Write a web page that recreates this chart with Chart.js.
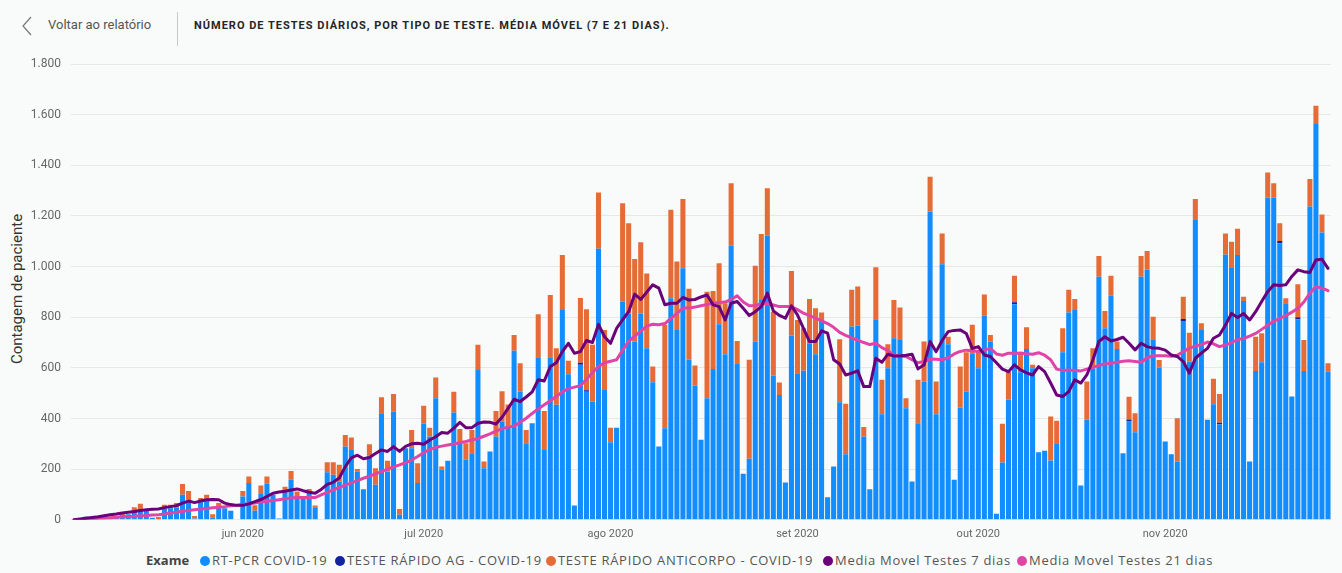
<!DOCTYPE html>
<html>
<head>
<meta charset="utf-8">
<script src="https://cdn.jsdelivr.net/npm/chart.js@4.4.0/dist/chart.umd.min.js"></script>
<style>
  body { margin: 0; width: 1342px; height: 573px; overflow: hidden; background: #f9fbfa; position: relative; font-family: Roboto, "Open Sans", sans-serif; }
  .abs { position: absolute; white-space: nowrap; }
  #back { left: 48px; top: 17px; font-size: 13px; color: #555; }
  #sep { left: 177px; top: 12px; width: 1px; height: 34px; background: #c8c8c8; }
  #title { left: 194px; top: 19px; font-size: 11px; font-weight: 700; color: #252525; letter-spacing: 1px; }
  #ytitle { left: 17px; top: 289px; font-size: 15px; color: #333; transform: translate(-50%, -50%) rotate(-90deg); }
  #wrap { position: absolute; left: 0; top: 40px; width: 1342px; height: 503px; }
  .leg { top: 551px; font-size: 13px; color: #555; letter-spacing: 0.7px; font-family: "Open Sans", sans-serif; }
  .dot { display: inline-block; width: 10px; height: 10px; border-radius: 50%; margin-right: 2px; vertical-align: -1px; }
</style>
</head>
<body>
<svg class="abs" style="left:0;top:0" width="40" height="50"><polyline points="31,17 23,26 31,35" fill="none" stroke="#777" stroke-width="1.2"/></svg>
<div id="back" class="abs">Voltar ao relatório</div>
<div id="sep" class="abs"></div>
<div id="title" class="abs">NÚMERO DE TESTES DIÁRIOS, POR TIPO DE TESTE. MÉDIA MÓVEL (7 E 21 DIAS).</div>
<div id="ytitle" class="abs">Contagem de paciente</div>
<div id="wrap"><canvas id="chart"></canvas></div>
<div id="legend"></div>
<script>
// Daily counts from 04/05/2020 to 28/11/2020
const startDate = new Date(2020, 4, 4);
const nDays = 209;

const rtPcr = [
  0, 3, 0, 6, 8, 10, 5, 14, 15, 22,
  35, 43, 39, 8, 3, 46, 46, 50, 99, 80,
  5, 72, 83, 8, 53, 46, 36, 0, 92, 145,
  36, 105, 143, 99, 5, 114, 158, 85, 85, 112,
  50, 0, 188, 178, 151, 289, 276, 190, 121, 254,
  138, 421, 191, 427, 20, 283, 283, 145, 379, 329,
  480, 198, 233, 424, 302, 237, 263, 592, 204, 270,
  329, 388, 370, 668, 506, 302, 381, 642, 276, 642,
  454, 829, 575, 56, 612, 506, 467, 1070, 513, 306,
  364, 862, 815, 704, 815, 677, 543, 289, 362, 875,
  750, 993, 632, 530, 316, 480, 596, 772, 654, 1083,
  618, 182, 241, 704, 868, 1122, 570, 493, 147, 727,
  579, 589, 697, 654, 789, 89, 210, 464, 259, 763,
  767, 329, 121, 792, 417, 598, 717, 713, 441, 151,
  381, 546, 1217, 417, 1009, 693, 158, 443, 506, 658,
  598, 806, 703, 24, 226, 474, 851, 583, 675, 598,
  267, 273, 234, 302, 662, 819, 829, 135, 395, 598,
  960, 756, 885, 675, 263, 388, 346, 960, 987, 710,
  601, 309, 259, 230, 785, 625, 1187, 750, 395, 456,
  377, 1048, 997, 1046, 864, 230, 588, 622, 1272, 1272,
  1092, 855, 487, 792, 588, 1237, 1563, 1135, 585
];
const rapidoAg = [
  0, 0, 12, 0, 0, 0, 0, 0, 0, 0,
  0, 0, 0, 0, 0, 0, 0, 0, 0, 0,
  0, 0, 0, 0, 0, 0, 0, 0, 0, 0,
  0, 0, 0, 0, 0, 0, 0, 0, 0, 0,
  0, 0, 0, 0, 0, 0, 0, 0, 0, 0,
  0, 0, 0, 0, 0, 0, 0, 0, 0, 0,
  0, 0, 0, 0, 0, 0, 0, 0, 0, 0,
  0, 0, 0, 0, 0, 0, 0, 0, 0, 0,
  0, 0, 0, 0, 8, 6, 0, 0, 0, 0,
  0, 0, 0, 0, 0, 0, 0, 0, 0, 0,
  0, 0, 0, 0, 0, 0, 0, 0, 0, 0,
  0, 0, 0, 0, 0, 0, 0, 0, 0, 0,
  0, 0, 0, 0, 0, 0, 0, 0, 0, 0,
  0, 0, 0, 0, 0, 0, 0, 0, 0, 0,
  0, 0, 0, 0, 0, 0, 0, 0, 0, 0,
  0, 0, 0, 0, 0, 0, 8, 0, 0, 0,
  0, 0, 0, 0, 0, 0, 0, 0, 0, 0,
  0, 0, 0, 0, 0, 8, 0, 0, 0, 0,
  0, 0, 0, 0, 8, 0, 0, 0, 0, 0,
  6, 0, 0, 0, 0, 0, 0, 0, 0, 0,
  9, 0, 0, 8, 0, 0, 0, 0, 0
];
const anticorpo = [
  0, 0, 0, 0, 0, 0, 0, 0, 15, 0,
  15, 20, 0, 0, 8, 13, 13, 16, 42, 34,
  10, 14, 16, 14, 13, 0, 0, 0, 22, 26,
  21, 30, 28, 0, 0, 17, 35, 27, 0, 10,
  6, 0, 39, 49, 66, 46, 49, 11, 0, 44,
  66, 63, 42, 70, 23, 0, 72, 78, 71, 35,
  82, 12, 0, 82, 57, 65, 92, 99, 26, 0,
  101, 120, 85, 62, 112, 53, 0, 170, 154, 246,
  223, 217, 53, 0, 256, 319, 224, 223, 237, 58,
  0, 388, 356, 326, 281, 296, 62, 0, 408, 349,
  270, 274, 280, 79, 0, 421, 308, 241, 201, 246,
  88, 0, 391, 299, 261, 187, 252, 49, 0, 256,
  210, 167, 175, 181, 30, 0, 0, 249, 199, 145,
  154, 37, 0, 205, 136, 95, 151, 125, 39, 0,
  172, 158, 138, 129, 122, 30, 0, 162, 156, 112,
  66, 84, 27, 0, 153, 111, 105, 81, 85, 14,
  0, 0, 174, 89, 94, 89, 43, 0, 151, 79,
  82, 69, 79, 29, 0, 90, 75, 82, 75, 92,
  30, 0, 0, 171, 88, 114, 80, 26, 0, 101,
  114, 83, 101, 103, 17, 0, 135, 115, 100, 57,
  70, 20, 0, 130, 122, 109, 72, 71, 33
];
const media7 = [
  0, 3, 6, 9, 12, 16, 20, 23, 27, 30,
  33, 37, 40, 42, 43, 48, 52, 56, 66, 74,
  68, 74, 79, 80, 79, 66, 60, 57, 57, 63,
  72, 80, 92, 105, 110, 113, 118, 122, 115, 109,
  105, 120, 140, 148, 165, 210, 245, 255, 241, 246,
  262, 276, 270, 289, 270, 290, 300, 302, 298, 315,
  328, 345, 342, 362, 385, 364, 364, 381, 386, 385,
  378, 405, 440, 476, 467, 485, 505, 553, 548, 605,
  620, 664, 697, 658, 664, 708, 700, 772, 723, 697,
  756, 790, 822, 891, 870, 899, 928, 915, 849, 855,
  855, 878, 868, 870, 880, 888, 849, 842, 789, 855,
  862, 835, 807, 822, 842, 895, 825, 807, 796, 845,
  809, 756, 704, 704, 746, 737, 632, 615, 572, 579,
  588, 526, 526, 638, 622, 654, 647, 647, 650, 654,
  596, 612, 704, 664, 708, 743, 748, 750, 736, 677,
  684, 651, 645, 620, 595, 585, 612, 592, 580, 572,
  605, 585, 540, 493, 487, 506, 553, 540, 572, 631,
  704, 723, 706, 712, 721, 697, 671, 697, 684, 678,
  677, 670, 651, 645, 625, 579, 638, 658, 677, 717,
  730, 769, 815, 799, 815, 789, 822, 862, 901, 928,
  925, 928, 961, 987, 980, 977, 1026, 1029, 993
];
const media21 = [
  0, 1, 3, 4, 6, 7, 8, 10, 12, 13,
  14, 16, 17, 19, 20, 23, 27, 30, 34, 37,
  40, 43, 45, 48, 50, 52, 55, 57, 60, 63,
  66, 70, 73, 76, 79, 83, 86, 88, 88, 88,
  88, 98, 108, 118, 128, 137, 146, 155, 164, 172,
  181, 190, 200, 209, 217, 226, 236, 250, 265, 277,
  286, 291, 295, 299, 304, 309, 315, 321, 330, 339,
  350, 360, 366, 370, 385, 401, 420, 438, 454, 470,
  488, 505, 518, 524, 530, 555, 582, 605, 620, 626,
  632, 670, 705, 725, 745, 765, 772, 770, 775, 795,
  815, 836, 836, 840, 845, 850, 855, 858, 860, 870,
  885, 860, 845, 846, 852, 854, 848, 842, 842, 842,
  830, 816, 806, 796, 786, 775, 760, 740, 728, 718,
  710, 700, 692, 697, 680, 668, 650, 647, 645, 632,
  620, 625, 635, 634, 632, 640, 655, 665, 670, 668,
  665, 670, 677, 655, 650, 658, 658, 658, 656, 654,
  660, 650, 632, 595, 590, 592, 590, 588, 595, 602,
  610, 615, 618, 622, 626, 628, 625, 622, 640, 648,
  648, 648, 646, 650, 664, 678, 686, 692, 702, 695,
  684, 690, 700, 712, 716, 725, 736, 752, 768, 784,
  795, 806, 820, 835, 860, 895, 921, 915, 905
];

// x-axis tick labels (index of the 1st day of each month)
const monthStarts = [28, 58, 89, 120, 150, 181];
const monthLabels = ['jun 2020', 'jul 2020', 'ago 2020', 'set 2020', 'out 2020', 'nov 2020'];

const seriesNames = ['RT-PCR COVID-19', 'TESTE RÁPIDO AG - COVID-19', 'TESTE RÁPIDO ANTICORPO - COVID-19', 'Media Movel Testes 7 dias', 'Media Movel Testes 21 dias'];
const seriesColors = ['#118DFF', '#12239E', '#E66C37', '#6B007B', '#E044A7'];
const legendX = [200, 335, 546, 823, 1017];

const labels = [];
for (let i = 0; i < nDays; i++) {
  const d = new Date(startDate.getTime() + i * 86400000);
  labels.push(String(d.getDate()).padStart(2, '0') + '/' + String(d.getMonth() + 1).padStart(2, '0') + '/2020');
}

// legend
let leg = '<div class="abs leg" style="left:146px;font-weight:700;color:#444;letter-spacing:0">Exame</div>';
seriesNames.forEach((n, i) => {
  leg += '<div class="abs leg" style="left:' + legendX[i] + 'px"><span class="dot" style="background:' + seriesColors[i] + '"></span>' + n + '</div>';
});
document.getElementById('legend').innerHTML = leg;

const barOpts = { stack: 'testes', order: 2, barPercentage: 0.84, categoryPercentage: 1 };

new Chart(document.getElementById('chart'), {
  data: {
    labels: labels,
    datasets: [
      Object.assign({ type: 'bar', label: seriesNames[0], data: rtPcr, backgroundColor: seriesColors[0] }, barOpts),
      Object.assign({ type: 'bar', label: seriesNames[1], data: rapidoAg, backgroundColor: seriesColors[1] }, barOpts),
      Object.assign({ type: 'bar', label: seriesNames[2], data: anticorpo, backgroundColor: seriesColors[2] }, barOpts),
      { type: 'line', label: seriesNames[4], data: media21, borderColor: seriesColors[4], borderWidth: 3, pointRadius: 0, stack: 'm21', order: 1, borderJoinStyle: 'round', borderCapStyle: 'round' },
      { type: 'line', label: seriesNames[3], data: media7, borderColor: seriesColors[3], borderWidth: 3, pointRadius: 0, stack: 'm7', order: 0, borderJoinStyle: 'round', borderCapStyle: 'round' }
    ]
  },
  options: {
    responsive: true,
    maintainAspectRatio: false,
    animation: false,
    layout: { padding: { left: 0, right: 11, top: 24, bottom: 2 } },
    plugins: { legend: { display: false }, tooltip: { enabled: false } },
    scales: {
      x: {
        stacked: true,
        grid: { display: false },
        border: { display: false },
        ticks: {
          autoSkip: false, maxRotation: 0, padding: 0, color: '#666',
          font: { size: 11, family: 'Roboto' },
          callback: function (v, i) {
            const k = monthStarts.indexOf(i);
            return k >= 0 ? monthLabels[k] : '';
          }
        }
      },
      y: {
        stacked: true,
        min: 0,
        max: 1800,
        border: { display: false },
        grid: { color: '#e6e8e7', drawTicks: false },
        ticks: {
          stepSize: 200, padding: 10, color: '#666',
          font: { size: 12, family: 'Roboto' },
          callback: v => String(v).replace(/\B(?=(\d{3})+(?!\d))/g, '.')
        },
        afterFit: s => { s.width = 71; }
      }
    }
  }
});
</script>
</body>
</html>
